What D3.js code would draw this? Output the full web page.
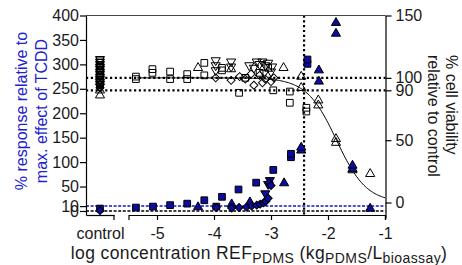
<!DOCTYPE html>
<html><head><meta charset="utf-8">
<script src="https://cdn.jsdelivr.net/npm/d3@7"></script>
<style>
body{margin:0;background:#fff}
svg{display:block}
text{font-family:"Liberation Sans",Arial,sans-serif}
</style>
</head><body>
<svg id="c" width="462" height="265"></svg>
<script>
// ---------- data ----------
const leftTicks = [0, 10, 50, 100, 150, 200, 250, 300, 350, 400];
const rightTicks = [0, 50, 90, 100, 150];
const xTicks = [-5, -4, -3, -2, -1];
const controlCategory = ["control"];

// reference lines
const viabilityRefLines = [100, 90];     // right axis, dotted
const responseRefBlue = 10;               // left axis, blue dashed
const responseRefBlack = 0;               // left axis, black dashed
const ic10LogConc = -2.42;                // vertical dotted

// fit of cell viability (Hill curve parameters)
const fitTop = 100, fitBottom = 0, fitLogIC50 = -1.85, fitHill = 1.65;
const fitRange = [-5.35, -1];

// % response (left axis), blue filled markers [logConc, value]
const respSquares = [[-5.37,7],[-5.07,9],[-4.77,12],[-4.47,15],[-4.17,22],[-3.96,9],[-3.86,29],[-3.57,44],[-3.26,58],[-2.96,84],[-2.65,110],[-2.65,117],[-2.36,301],[-2.36,310]];
const respTriangles = [[-4.28,8],[-3.69,14],[-3.37,18],[-2.77,57],[-2.47,124],[-2.47,130],[-2.16,265],[-2.16,288],[-1.86,363],[-1.86,385],[-1.57,86],[-1.57,93],[-1.26,5]];
const respInvTriangles = [[-3.1,36],[-3.05,55],[-3.02,63]];
const respDiamonds = [[-3.96,7],[-3.69,6],[-3.56,7],[-3.43,8],[-3.34,10],[-3.25,12],[-3.19,14],[-3.13,17],[-3.09,20],[-3.05,26],[-3.03,58],[-3.0,52]];
const respControlSquares = [5];
const respControlDiamonds = [1];

// % cell viability (right axis), open markers [logConc, value]
const viaSquares = [[-5.37,99],[-5.37,101],[-5.08,104],[-5.08,107],[-4.77,105],[-4.77,99],[-4.47,103],[-4.47,99],[-4.17,112],[-4.17,102],[-3.86,106],[-3.86,108],[-3.56,88],[-3.45,100],[-3.2,104],[-3.05,108],[-2.96,90],[-2.67,89],[-2.67,80],[-2.38,76],[-2.38,73]];
const viaTriangles = [[-4.28,108],[-3.7,107],[-2.78,108],[-2.47,101],[-2.47,92],[-2.17,82],[-2.17,78],[-1.86,51],[-1.86,48],[-1.26,23]];
const viaGreyTriangles = [[-1.57,26]];
const viaInvTriangles = [[-3.97,114],[-3.97,110],[-3.97,106],[-3.7,113],[-3.7,109],[-3.25,113],[-3.2,111],[-3.15,113],[-3.1,110],[-3.05,112],[-3.3,108],[-3.0,105],[-3.12,104],[-3.38,110],[-2.98,109]];
const viaDiamonds = [[-3.97,100],[-3.7,98],[-3.55,101],[-3.45,99],[-3.3,94],[-3.2,102],[-3.1,99],[-3.0,97],[-2.95,100],[-3.35,103],[-3.15,96]];
const viaControlInv = [115,113,111,109,107,105,103,101,99,97,95,93];
const viaControlSquares = [114,112,110,108,106,104,102,100,98,96,94];
const viaControlDiamonds = [110,106,102,98,95,92];
const viaControlTriangles = [90,86];

// ---------- layout ----------
const svg = d3.select("#c");
const blueFill = "#0c0ca0", blueText = "#2222cc";
const xCtrl = d3.scalePoint().domain(controlCategory).range([86, 114]).padding(0.5);
const x = d3.scaleLinear().domain([-5.5, -1]).range([128.5, 385]);
const yL = d3.scaleLinear().domain([-8.2, 400]).range([215, 15.5]);
const yR = d3.scaleLinear().domain([-12.4, 150]).range([218, 15.5]);
const xAxisY = 215, leftX = 86, rightX = 385.5;

// reference lines
const g = svg.append("g");
viabilityRefLines.forEach(v => {
  g.append("line").attr("x1", leftX).attr("x2", rightX).attr("y1", yR(v)).attr("y2", yR(v))
    .attr("stroke", "#000").attr("stroke-width", 2.2).attr("stroke-dasharray", "2.2 2.6");
});
g.append("line").attr("x1", x(ic10LogConc)).attr("x2", x(ic10LogConc)).attr("y1", 15.5).attr("y2", xAxisY)
  .attr("stroke", "#000").attr("stroke-width", 2.2).attr("stroke-dasharray", "2.2 2.6");
g.append("line").attr("x1", leftX).attr("x2", rightX).attr("y1", yL(responseRefBlack)).attr("y2", yL(responseRefBlack))
  .attr("stroke", "#000").attr("stroke-width", 1.5).attr("stroke-dasharray", "3 1.6");
g.append("line").attr("x1", leftX).attr("x2", rightX).attr("y1", yL(responseRefBlue)).attr("y2", yL(responseRefBlue))
  .attr("stroke", "#1515c8").attr("stroke-width", 1.5).attr("stroke-dasharray", "3 1.6");

// fit curve
const hill = lc => fitBottom + (fitTop - fitBottom) / (1 + Math.pow(10, (lc - fitLogIC50) * fitHill));
const curvePts = d3.range(0, 201).map(i => fitRange[0] + (fitRange[1] - fitRange[0]) * i / 200);
g.append("path").datum(curvePts)
  .attr("d", d3.line().x(d => x(d)).y(d => yR(hill(d))))
  .attr("fill", "none").attr("stroke", "#000").attr("stroke-width", 1);

// markers
const shapes = {
  square: d3.symbol(d3.symbolSquare, 45)(),
  tri: d3.symbol(d3.symbolTriangle, 36)(),
  dia: d3.symbol(d3.symbolSquare, 32)()
};
function draw(data, xf, yf, shape, fill, rot) {
  g.append("g").selectAll("path").data(data).join("path")
    .attr("d", shapes[shape])
    .attr("transform", d => `translate(${xf(d)},${yf(d)}) rotate(${rot||0})`)
    .attr("fill", fill).attr("stroke", "#000").attr("stroke-width", 1);
}
const vx = d => x(d[0]);
const cx = () => xCtrl("control");
// viability (open)
draw(viaControlInv, cx, d => yR(d), "tri", "none", 180);
draw(viaControlSquares, cx, d => yR(d), "square", "none");
draw(viaControlDiamonds, cx, d => yR(d), "dia", "none", 45);
draw(viaControlTriangles, cx, d => yR(d), "tri", "none");
draw(viaSquares, vx, d => yR(d[1]), "square", "none");
draw(viaTriangles, vx, d => yR(d[1]), "tri", "none");
draw(viaInvTriangles, vx, d => yR(d[1]), "tri", "none", 180);
draw(viaDiamonds, vx, d => yR(d[1]), "dia", "none", 45);
draw(viaGreyTriangles, vx, d => yR(d[1]), "tri", "#999");
// response (blue)
draw(respControlSquares, cx, d => yL(d), "square", blueFill);
draw(respControlDiamonds, cx, d => yL(d), "dia", blueFill, 45);
draw(respSquares, vx, d => yL(d[1]), "square", blueFill);
draw(respTriangles, vx, d => yL(d[1]), "tri", blueFill);
draw(respInvTriangles, vx, d => yL(d[1]), "tri", blueFill, 180);
draw(respDiamonds, vx, d => yL(d[1]), "dia", blueFill, 45);

// frame top
svg.append("line").attr("x1", leftX).attr("x2", rightX).attr("y1", 15.5).attr("y2", 15.5)
  .attr("stroke", "#444").attr("stroke-width", 1.2);

// axes
const fs = "16px";
const styleAxis = sel => {
  sel.selectAll("text").attr("font-size", fs).attr("fill", "#1a1a1a")
    .attr("font-family", '"Liberation Sans",Arial,sans-serif');
  sel.selectAll("path,line").attr("stroke", "#000").attr("stroke-width", 1.2);
};
svg.append("g").attr("transform", `translate(${leftX},0)`)
  .call(d3.axisLeft(yL).tickValues(leftTicks).tickSize(6).tickPadding(1).tickSizeOuter(0))
  .call(styleAxis);
svg.append("g").attr("transform", `translate(${rightX},0)`)
  .call(d3.axisRight(yR).tickValues(rightTicks).tickSize(6).tickPadding(4).tickSizeOuter(0))
  .call(styleAxis);
const ctrlAxis = svg.append("g").attr("transform", `translate(0,${xAxisY})`)
  .call(d3.axisBottom(xCtrl).tickSize(0).tickPadding(13).tickSizeOuter(0))
  .call(styleAxis);
ctrlAxis.append("line").attr("x1", 114).attr("x2", 114).attr("y1", 0).attr("y2", 5)
  .attr("stroke", "#000").attr("stroke-width", 1.2);
svg.append("g").attr("transform", `translate(0,${xAxisY})`)
  .call(d3.axisBottom(x).tickValues(xTicks).tickFormat(d => String(d)).tickSize(5).tickPadding(8).tickSizeOuter(5))
  .call(styleAxis);
svg.selectAll(".domain").attr("fill", "none");

// titles
const xt = svg.append("text").attr("x", 259).attr("y", 259).attr("text-anchor", "middle")
  .attr("font-size", "17.5px").attr("letter-spacing", "0.4px").attr("fill", "#1a1a1a");
xt.append("tspan").text("log concentration REF");
xt.append("tspan").attr("font-size", "14px").attr("dy", 4).text("PDMS");
xt.append("tspan").attr("dy", -4).text(" (kg");
xt.append("tspan").attr("font-size", "14px").attr("dy", 4).text("PDMS");
xt.append("tspan").attr("dy", -4).text("/L");
xt.append("tspan").attr("font-size", "14px").attr("dy", 4).text("bioassay");
xt.append("tspan").attr("dy", -4).text(")");

const lt = svg.append("g").attr("transform", "translate(0,111) rotate(-90)");
lt.append("text").attr("x", 0).attr("y", 27).attr("text-anchor", "middle").attr("font-size", "16px").attr("fill", blueText).text("% response relative to");
lt.append("text").attr("x", 0).attr("y", 47).attr("text-anchor", "middle").attr("font-size", "16px").attr("fill", blueText).text("max. effect of TCDD");

const rt = svg.append("g").attr("transform", "translate(0,55) rotate(90)");
rt.append("text").attr("x", 0).attr("y", -446).attr("text-anchor", "start").attr("font-size", "16px").attr("fill", "#1a1a1a").text("% cell viability");
rt.append("text").attr("x", 0).attr("y", -428).attr("text-anchor", "start").attr("font-size", "16px").attr("fill", "#1a1a1a").text("relative to control");
</script>
</body></html>
